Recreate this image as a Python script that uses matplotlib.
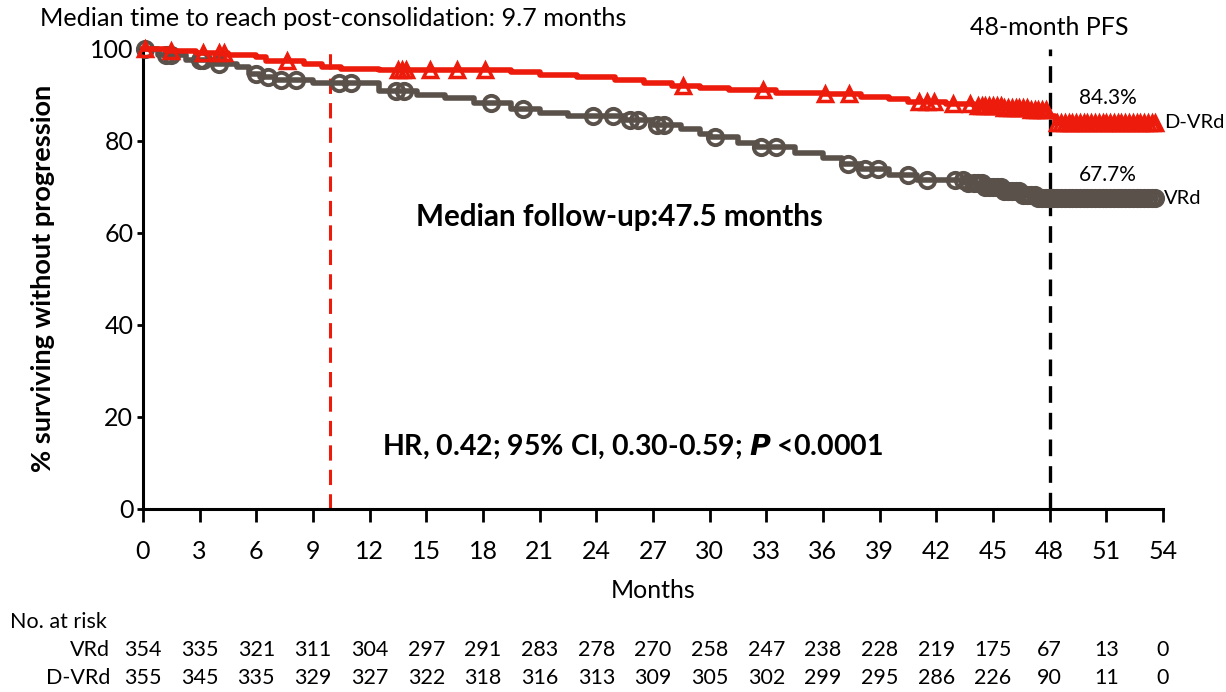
import numpy as np
import matplotlib
matplotlib.use("Agg")
import matplotlib.pyplot as plt
from matplotlib import transforms

plt.rcParams['font.family'] = ['Lato', 'DejaVu Sans']

# ---------------- data ----------------
months_ticks = [0, 3, 6, 9, 12, 15, 18, 21, 24, 27, 30, 33, 36, 39, 42, 45, 48, 51, 54]

vrd_t = [0, 0.8, 2.3, 3.5, 5.0, 5.6, 6.2, 7.0, 9.0, 12.5, 14.5, 16.0, 17.5, 19.5, 21.0, 22.5,
         25.5, 27.0, 28.5, 29.5, 30.0, 31.5, 32.5, 34.5, 36.0, 37.0, 38.0, 39.5, 41.0, 43.5,
         44.5, 45.5, 46.5, 47.3, 53.6]
vrd_s = [100, 98.6, 97.6, 96.6, 96.0, 94.6, 93.8, 93.3, 92.6, 90.9, 90.0, 89.3, 88.2, 87.0, 86.0, 85.3,
         84.5, 83.4, 82.6, 81.6, 80.8, 79.6, 78.6, 77.4, 76.3, 75.0, 73.9, 72.6, 71.6, 70.8,
         70.0, 69.2, 68.3, 67.5, 67.5]
vrd_cens = [0.1, 1.2, 1.5, 3.0, 3.2, 4.0, 6.0, 6.6, 7.3, 8.1, 10.4, 11.0, 13.4, 13.8, 18.4, 20.1,
            23.8, 24.9, 25.8, 26.2, 27.2, 27.6, 30.3, 32.7, 33.5, 37.3, 38.2, 38.9, 40.5, 41.5,
            43.0, 43.4, 43.7, 44.0, 44.2, 44.4, 44.6, 44.8, 45.0, 45.2, 45.4, 45.6, 45.8, 46.0,
            46.2, 46.4, 46.6, 46.8, 47.0, 47.2, 47.4, 47.6, 47.8, 48.0, 48.2, 48.4, 48.6, 48.8,
            49.0, 49.2, 49.4, 49.6, 49.8, 50.0, 50.2, 50.4, 50.6, 50.8, 51.0, 51.2, 51.4, 51.6,
            51.8, 52.0, 52.2, 52.4, 52.6, 52.8, 53.0, 53.2, 53.4, 53.6]

dvrd_t = [0, 1.2, 2.8, 4.5, 6.0, 6.5, 8.5, 9.5, 10.5, 12.5, 19.5, 21.0, 23.0, 25.0, 26.5, 28.0,
          29.5, 31.0, 33.5, 36.0, 38.0, 39.5, 40.5, 42.5, 44.0, 45.5, 47.0, 47.9, 48.3, 53.6]
dvrd_s = [100, 99.6, 99.1, 98.6, 98.2, 97.3, 96.6, 96.0, 95.6, 95.3, 94.9, 94.3, 93.9, 93.3, 92.6, 92.0,
          91.4, 91.0, 90.5, 90.1, 89.6, 89.0, 88.5, 88.0, 87.6, 87.2, 86.8, 85.5, 83.8, 83.8]
dvrd_cens = [0.1, 1.5, 3.2, 4.0, 4.3, 7.6, 13.5, 13.7, 13.9, 15.2, 16.6, 18.1, 28.6, 32.8, 36.1,
             37.4, 41.1, 41.5, 41.9, 42.9, 43.8, 44.2, 44.4, 44.6, 44.8, 45.0, 45.2, 45.4, 45.6,
             45.8, 46.0, 46.2, 46.4, 46.6, 46.8, 47.0, 47.2, 47.4, 47.6, 47.8, 48.4, 48.6, 48.8,
             49.0, 49.2, 49.4, 49.6, 49.8, 50.0, 50.2, 50.4, 50.6, 50.8, 51.0, 51.2, 51.4, 51.6,
             51.8, 52.0, 52.2, 52.4, 52.6, 52.8, 53.0, 53.2, 53.4, 53.6]

risk_vrd = [354, 335, 321, 311, 304, 297, 291, 283, 278, 270, 258, 247, 238, 228, 219, 175, 67, 13, 0]
risk_dvrd = [355, 345, 335, 329, 327, 322, 318, 316, 313, 309, 305, 302, 299, 295, 286, 226, 90, 11, 0]

median_consol = 9.9
pfs_month = 48
pfs_vrd_label = "67.7%"
pfs_dvrd_label = "84.3%"

RED = '#EC1B0B'
GRAY = '#5A514B'

# ---------------- figure ----------------
fig = plt.figure(figsize=(12.26, 6.92), dpi=100)
ax = fig.add_axes([143/1226, 1-509/692, 1020/1226, 462/692])


def step_at(t, s, c):
    t = np.asarray(t); s = np.asarray(s)
    idx = np.searchsorted(t, np.asarray(c), side='right') - 1
    return s[np.clip(idx, 0, len(s)-1)]


ax.step(vrd_t, vrd_s, where='post', color=GRAY, lw=4, zorder=3, clip_on=False)
ax.plot(vrd_cens, step_at(vrd_t, vrd_s, vrd_cens), ls='none', marker='o', ms=11,
        mfc='none', mec=GRAY, mew=2.8, zorder=3, clip_on=False)
ax.step(dvrd_t, dvrd_s, where='post', color=RED, lw=4, zorder=4, clip_on=False)
ax.plot(dvrd_cens, step_at(dvrd_t, dvrd_s, dvrd_cens), ls='none', marker='^', ms=10,
        mfc='none', mec=RED, mew=2.5, zorder=4, clip_on=False)

ax.plot([median_consol, median_consol], [0, 100], color=RED, lw=2.2, ls=(0, (5, 3)), zorder=2)
ax.plot([pfs_month, pfs_month], [0, 100], color='black', lw=2.4, ls=(0, (5, 3)), zorder=2)

ax.set_xlim(0, 54)
ax.set_ylim(0, 100.4)
ax.set_xticks(months_ticks)
ax.set_xticklabels([str(m) for m in months_ticks])
ax.set_yticks([0, 20, 40, 60, 80, 100])
ax.tick_params(axis='both', labelsize=18, width=2, direction='out', colors='black')
ax.tick_params(axis='x', length=9, pad=13)
ax.tick_params(axis='y', length=4, pad=3)
for side in ['top', 'right']:
    ax.spines[side].set_visible(False)
for side in ['left', 'bottom']:
    ax.spines[side].set_linewidth(2.2)

ax.set_xlabel('Months', fontsize=18, labelpad=12)
ax.set_ylabel('% surviving without progression', fontsize=19.5, fontweight='bold', labelpad=25)

# annotations
fig.text(40/1226, 1-18/692, 'Median time to reach post-consolidation: 9.7 months',
         fontsize=18.2, ha='left', va='center')
ax.text(48, 104.6, '48-month PFS', fontsize=18, ha='center', va='center')
ax.text(51.1, 89.3, pfs_dvrd_label, fontsize=15, ha='center', va='center')
ax.text(51.1, 72.6, pfs_vrd_label, fontsize=15, ha='center', va='center')
ax.text(54.05, 83.9, 'D-VRd', fontsize=14.5, ha='left', va='center')
ax.text(54.05, 67.4, 'VRd', fontsize=14.5, ha='left', va='center')
ax.text(25.2, 63.5, 'Median follow-up:47.5 months', fontsize=21.3, fontweight='bold',
        ha='center', va='center')
ax.text(25.9, 13.5, r'HR, 0.42; 95% CI, 0.30-0.59; $\mathbfit{P}$ <0.0001', fontsize=20.5,
        fontweight='bold', ha='center', va='center')

# risk table
trans = transforms.blended_transform_factory(ax.transData, fig.transFigure)
fig.text(10/1226, 1-622/692, 'No. at risk', fontsize=15.5, ha='left', va='center')
fig.text(110/1226, 1-650/692, 'VRd', fontsize=15.5, ha='right', va='center')
fig.text(110/1226, 1-678/692, 'D-VRd', fontsize=15.5, ha='right', va='center')
for m, a, b in zip(months_ticks, risk_vrd, risk_dvrd):
    ax.text(m, 1-650/692, str(a), transform=trans, fontsize=15.5, ha='center', va='center')
    ax.text(m, 1-678/692, str(b), transform=trans, fontsize=15.5, ha='center', va='center')

fig.savefig('out.png', dpi=100)
